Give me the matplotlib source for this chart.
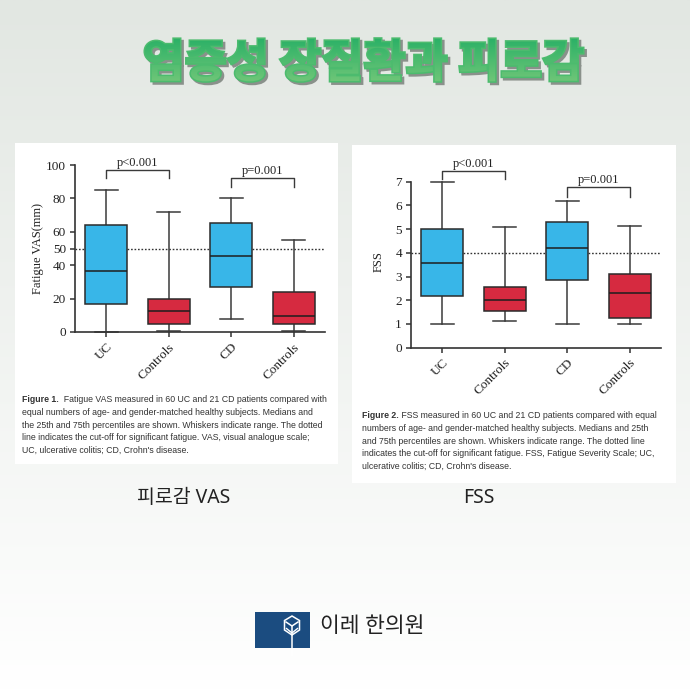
import matplotlib
matplotlib.use('Agg')
import matplotlib.pyplot as plt
import numpy as np
from matplotlib.patches import Rectangle, Polygon, PathPatch
from matplotlib.textpath import TextPath
from matplotlib.font_manager import FontProperties
from matplotlib.transforms import Affine2D

# ---------------- data ----------------
categories = ["UC", "Controls", "CD", "Controls"]

vas_min = [0.0, 0.5, 7.8, 0.8]
vas_q1 = [16.8, 4.6, 27.2, 4.6]
vas_med = [36.8, 12.8, 45.8, 9.6]
vas_q3 = [63.8, 20.0, 65.2, 23.8]
vas_max = [85.0, 71.8, 80.0, 54.8]
vas_ticks = [0, 20, 40, 50, 60, 80, 100]
vas_cutoff = 50

fss_min = [0.98, 1.12, 0.98, 1.0]
fss_q1 = [2.17, 1.53, 2.86, 1.25]
fss_med = [3.56, 2.0, 4.22, 2.31]
fss_q3 = [5.0, 2.55, 5.29, 3.1]
fss_max = [6.97, 5.1, 6.2, 5.12]
fss_ticks = [0, 1, 2, 3, 4, 5, 6, 7]
fss_cutoff = 4

p_labels = ["p<0.001", "p=0.001"]

title = "염증성 장질환과 피로감"
panel_labels = ["피로감 VAS", "FSS"]
brand = "이레 한의원"

cap1 = ["  Fatigue VAS measured in 60 UC and 21 CD patients compared with",
        "equal numbers of age- and gender-matched healthy subjects. Medians and",
        "the 25th and 75th percentiles are shown. Whiskers indicate range. The dotted",
        "line indicates the cut-off for significant fatigue. VAS, visual analogue scale;",
        "UC, ulcerative colitis; CD, Crohn's disease."]
cap2 = [" FSS measured in 60 UC and 21 CD patients compared with equal",
        "numbers of age- and gender-matched healthy subjects. Medians and 25th",
        "and 75th percentiles are shown. Whiskers indicate range. The dotted line",
        "indicates the cut-off for significant fatigue. FSS, Fatigue Severity Scale; UC,",
        "ulcerative colitis; CD, Crohn's disease."]

BLUE = '#38b6e8'
RED = '#d62a40'
box_colors = [BLUE, RED, BLUE, RED]
KR = ['Noto Sans', 'Noto Sans CJK KR', 'DejaVu Sans']
SERIF = 'Liberation Serif'
SANS = 'Liberation Sans'

W = H = 690
fig = plt.figure(figsize=(6.9, 6.9), dpi=100)

# background
bg = fig.add_axes([0, 0, 1, 1])
bg.set_zorder(-1)
bg.set_xlim(0, W)
bg.set_ylim(H, 0)
bg.axis('off')
g = np.linspace(0, 1, 256)[:, None, None]
top = np.array([226, 231, 226]) / 255
bot = np.array([255, 255, 255]) / 255
img = top[None, None, :] * (1 - g) + bot[None, None, :] * g
bg.imshow(img, extent=[0, W, H, 0], aspect='auto', zorder=0)

bg.add_patch(Rectangle((15, 143), 323, 321, fc='white', ec='none', zorder=1))
bg.add_patch(Rectangle((352, 145), 324, 338, fc='white', ec='none', zorder=1))

# title with green gradient and grey shadow
fp = FontProperties(family='Noto Sans CJK KR', weight='heavy')
tp = TextPath((0, 0), title, prop=fp, size=40)
ext = tp.get_extents()
k = 438 / ext.width
cx, cy = (ext.x0 + ext.x1) / 2, (ext.y0 + ext.y1) / 2
tr = Affine2D().translate(-cx, -cy).scale(k, -k).translate(364, 60)
tpath = tr.transform_path(tp)
shadow = Affine2D().translate(2.4, 2.4).transform_path(tpath)
bg.add_patch(PathPatch(shadow, fc='#8a918b', ec='#8a918b', lw=2.2, joinstyle='miter', zorder=2))
bg.add_patch(PathPatch(tpath, fc='#4cbb6e', ec='#4cbb6e', lw=2.2, joinstyle='miter', zorder=2.5))
clip = PathPatch(tpath, fc='none', ec='none', zorder=3)
bg.add_patch(clip)
tb = tpath.get_extents()
gg = np.linspace(0, 1, 64)[:, None, None]
c_top = np.array([0x28, 0xb0, 0x66]) / 255
c_bot = np.array([0x70, 0xc6, 0x78]) / 255
timg = c_top[None, None, :] * (1 - gg) + c_bot[None, None, :] * gg
im = bg.imshow(timg, extent=[tb.x0 - 2, tb.x1 + 2, tb.y1 + 2, tb.y0 - 2], aspect='auto', zorder=3)
im.set_clip_path(clip)
bg.set_xlim(0, W)
bg.set_ylim(H, 0)

# panel labels
bg.text(184, 498, panel_labels[0], ha='center', va='center', fontsize=14, family=KR, color='#222222', zorder=3)
bg.text(479, 498, panel_labels[1], ha='center', va='center', fontsize=14, family=KR, color='#222222', zorder=3)

# logo
bg.add_patch(Rectangle((255, 612), 55, 36, fc='#1b4c80', ec='none', zorder=3))
hexpts = [(292, 616), (299.5, 620.5), (299.5, 630), (292, 635), (284.5, 630), (284.5, 620.5)]
bg.add_patch(Polygon(hexpts, closed=True, fc='none', ec='white', lw=1.1, zorder=4))
bg.plot([292, 292], [626, 655], color='white', lw=1.1, zorder=4)
bg.plot([286, 292, 298], [622, 626, 622], color='white', lw=1.1, zorder=4)
bg.plot([286.5, 292, 297.5], [628.5, 633, 628.5], color='white', lw=1.0, zorder=4)
bg.text(320, 626, brand, ha='left', va='center', fontsize=15.5, family=KR, fontweight='medium',
        color='#222222', zorder=4)

# captions
def caption(x, y0, lines, fignum):
    t = bg.text(x, y0, fignum, ha='left', va='baseline', fontsize=6.3, family=SANS,
                fontweight='bold', color='#333333', zorder=3)
    bg.annotate(lines[0], xy=(1, 0), xycoords=t, ha='left', va='bottom', fontsize=6.3,
                family=SANS, color='#333333', zorder=3)
    for i, ln in enumerate(lines[1:]):
        bg.text(x, y0 + 12.8 * (i + 1), ln, ha='left', va='baseline', fontsize=6.3,
                family=SANS, color='#333333', zorder=3)

caption(22, 402, cap1, "Figure 1.")
caption(362, 418, cap2, "Figure 2.")


def px(l, t, r, b):
    return [l / W, 1 - b / H, (r - l) / W, (b - t) / H]


def draw_box(ax, mins, q1, med, q3, maxs, ylim, ticks, cutoff, ylabel, labx, laby,
             brackets):
    stats = [dict(whislo=a, q1=b, med=c, q3=d, whishi=e, fliers=[])
             for a, b, c, d, e in zip(mins, q1, med, q3, maxs)]
    bp = ax.bxp(stats, positions=range(len(categories)), widths=0.67, capwidths=0.37,
                patch_artist=True, showfliers=False,
                boxprops=dict(edgecolor='#2b2b2b', linewidth=1.1),
                medianprops=dict(color='#1e1e1e', linewidth=1.1),
                whiskerprops=dict(color='#3a3a3a', linewidth=1.1),
                capprops=dict(color='#3a3a3a', linewidth=1.1))
    for patch, c in zip(bp['boxes'], box_colors):
        patch.set_facecolor(c)
        patch.set_zorder(3)
    for kk in ['whiskers', 'caps', 'medians']:
        for ln in bp[kk]:
            ln.set_clip_on(False)
            ln.set_zorder(3.5 if kk == 'medians' else 2)
    ax.axhline(cutoff, color='#333333', lw=1.0, ls=(0, (1.2, 1.3)), zorder=1)
    ax.set_xlim(-0.5, 3.5)
    ax.set_ylim(*ylim)
    ax.set_yticks(ticks)
    ax.set_xticks(range(len(categories)))
    ax.set_xticklabels(categories, rotation=45, ha='right', rotation_mode='anchor',
                       family=SERIF, fontsize=9.5)
    for lab in ax.get_yticklabels():
        lab.set_family(SERIF)
        lab.set_fontsize(9.5)
    ax.tick_params(direction='out', length=3.5, width=1.1, pad=3, colors='#333333',
                   labelcolor='#222222')
    for s in ['top', 'right']:
        ax.spines[s].set_visible(False)
    for s in ['left', 'bottom']:
        ax.spines[s].set_color('#333333')
        ax.spines[s].set_linewidth(1.2)
    ax.set_ylabel(ylabel, family=SERIF, fontsize=9, color='#222222')
    ax.yaxis.set_label_coords(labx, laby)
    ax.patch.set_alpha(0)
    for (x0, x1, ytop, yleg, ytext, lab) in brackets:
        ax.plot([x0, x0, x1, x1], [yleg, ytop, ytop, yleg], color='#3a3a3a', lw=1.0,
                clip_on=False)
        ax.text((x0 + x1) / 2, ytext, lab, ha='center', va='bottom', family=SERIF,
                fontsize=9, color='#222222', clip_on=False)


ax1 = fig.add_axes(px(75, 165, 325, 332))
draw_box(ax1, vas_min, vas_q1, vas_med, vas_q3, vas_max, (0, 100), vas_ticks, vas_cutoff,
         "Fatigue VAS(mm)", -0.125, 0.5,
         [(0, 1, 97, 92, 97.6, p_labels[0]), (2, 3, 92, 87, 92.6, p_labels[1])])

ax2 = fig.add_axes(px(411, 181.7, 661, 347.7))
draw_box(ax2, fss_min, fss_q1, fss_med, fss_q3, fss_max, (0, 7), fss_ticks, fss_cutoff,
         "FSS", -0.105, 0.52,
         [(0, 1, 7.45, 7.1, 7.5, p_labels[0]), (2, 3, 6.77, 6.37, 6.82, p_labels[1])])

fig.savefig('out.png', dpi=100)
